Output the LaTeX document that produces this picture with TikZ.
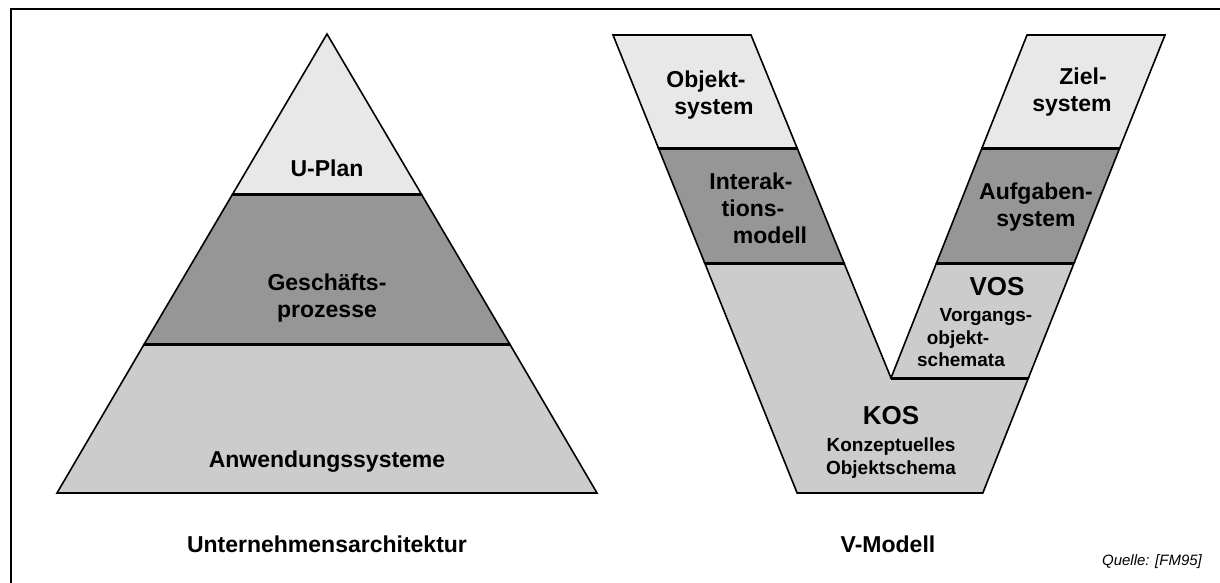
\documentclass[tikz,border=0pt]{standalone}
\usepackage{fontspec}
\setmainfont{Liberation Sans}
\definecolor{lightfill}{HTML}{E8E8E8}
\definecolor{darkfill}{HTML}{969696}
\definecolor{midfill}{HTML}{CCCCCC}
\newcommand\shiftln[2]{\makebox[0pt]{\hspace{#1}#2}}
\tikzset{
  band/.style={draw=black, line width=1.6pt, line join=miter},
  divider/.style={draw=black, line width=3pt},
  lab/.style={font=\bfseries\fontsize{23}{27}\selectfont, align=center, inner sep=0pt},
  small/.style={font=\bfseries\fontsize{19}{22.5}\selectfont, align=center, inner sep=0pt},
  big/.style={font=\bfseries\fontsize{26}{30}\selectfont, inner sep=0pt},
  src/.style={font=\itshape\fontsize{15}{18}\selectfont, inner sep=0pt}
}
\begin{document}
\begin{tikzpicture}[x=1pt,y=-1pt]
\useasboundingbox (0,0) rectangle (1220,583);
% frame
\draw[line width=2pt] (11,583) -- (11,9) -- (1220,9);

% ---------- pyramid ----------
\coordinate (apex) at (327,34);
\coordinate (p1l) at (232.7,194);
\coordinate (p1r) at (421.3,194);
\coordinate (p2l) at (144.3,344);
\coordinate (p2r) at (509.7,344);
\coordinate (bl) at (57,493);
\coordinate (br) at (597,493);
\filldraw[band, fill=lightfill] (apex) -- (p1r) -- (p1l) -- cycle;
\filldraw[band, fill=darkfill] (p1l) -- (p1r) -- (p2r) -- (p2l) -- cycle;
\filldraw[band, fill=midfill] (p2l) -- (p2r) -- (br) -- (bl) -- cycle;
\draw[divider] (p1l) -- (p1r);
\draw[divider] (p2l) -- (p2r);

\node[lab] (uplan) at (327,168) {U-Plan};
\node[lab] (gp) at (327,298) {Geschäfts-\\prozesse};
\node[lab, anchor=base] (anw) at (327,467) {Anwendungssysteme};
\node[lab, anchor=base] (ua) at (327,552) {Unternehmensarchitektur};

% ---------- V model ----------
\coordinate (lt1) at (613,35);
\coordinate (lt2) at (751,35);
\coordinate (la1) at (658.4,148);
\coordinate (la2) at (797.1,148);
\coordinate (lb1) at (704.7,263);
\coordinate (lb2) at (844.0,263);
\coordinate (vx) at (891,378);
\coordinate (rc) at (1028.4,378);
\coordinate (kb2) at (982.8,493);
\coordinate (kb1) at (797.1,493);
\coordinate (rt1) at (1027,35);
\coordinate (rt2) at (1165,35);
\coordinate (ra1) at (982,148);
\coordinate (ra2) at (1119.7,148);
\coordinate (rb1) at (936.5,263);
\coordinate (rb2) at (1074.1,263);

\filldraw[band, fill=lightfill] (lt1) -- (lt2) -- (la2) -- (la1) -- cycle;
\filldraw[band, fill=darkfill] (la1) -- (la2) -- (lb2) -- (lb1) -- cycle;
\filldraw[band, fill=midfill] (lb1) -- (lb2) -- (vx) -- (rc) -- (kb2) -- (kb1) -- cycle;
\filldraw[band, fill=lightfill] (rt1) -- (rt2) -- (ra2) -- (ra1) -- cycle;
\filldraw[band, fill=darkfill] (ra1) -- (ra2) -- (rb2) -- (rb1) -- cycle;
\filldraw[band, fill=midfill] (rb1) -- (rb2) -- (rc) -- (vx) -- cycle;
\draw[divider] (la1) -- (la2);
\draw[divider] (lb1) -- (lb2);
\draw[divider] (ra1) -- (ra2);
\draw[divider] (rb1) -- (rb2);
\draw[divider] (vx) -- (rc);

\node[lab] (objekt) at (710,95) {\shiftln{-8pt}{Objekt-}\\\shiftln{8pt}{system}};
\node[lab] (interak) at (758,208) {\shiftln{-14pt}{Interak-}\\\shiftln{-10pt}{tions-}\\\shiftln{24pt}{modell}};
\node[lab] (ziel) at (1077,92) {\shiftln{12pt}{Ziel-}\\\shiftln{-10pt}{system}};
\node[lab] (aufg) at (1036,207) {Aufgaben-\\system};
\node[big] (vos) at (997,287) {VOS};
\node[small] (vosd) at (968,338) {\shiftln{36pt}{Vorgangs-}\\\shiftln{-20pt}{objekt-}\\\shiftln{-14pt}{schemata}};
\node[big] (kos) at (891,416) {KOS};
\node[small] (kosd) at (891,458) {Konzeptuelles\\Objektschema};
\node[lab, anchor=base] (vm) at (888,552) {V-Modell};
\node[src, anchor=base] (quelle) at (1152,565) {Quelle: [FM95]};
\end{tikzpicture}
\end{document}
